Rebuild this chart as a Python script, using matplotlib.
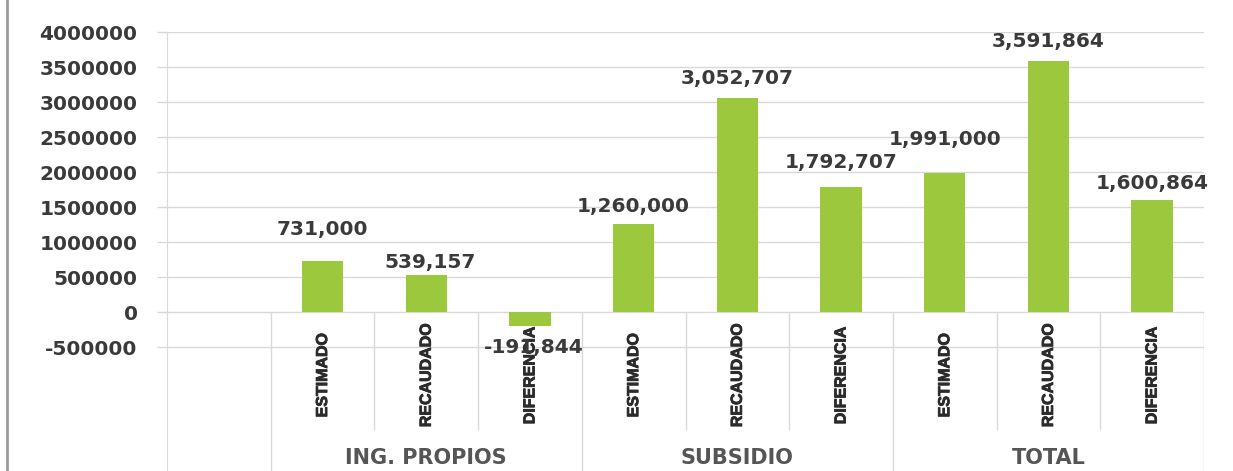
import matplotlib
matplotlib.use('agg')
from matplotlib import pyplot as plt
from matplotlib.lines import Line2D
import matplotlib.patheffects as pe
import numpy as np

# data
groups = ['ING. PROPIOS', 'SUBSIDIO', 'TOTAL']
subcats = ['ESTIMADO', 'RECAUDADO', 'DIFERENCIA']
values = [731000, 539157, -191844,
          1260000, 3052707, 1792707,
          1991000, 3591864, 1600864]
yticks = list(range(-500000, 4000001, 500000))

# label nudges (pixels), label placement only
label_dy = [32, 12, -22, 18, 20, 24, 33, 19, 17]
label_dx = [0, 4, 4, 0, 0, 0, 0, 0, 0]

green = '#9BC83C'
grid_c = '#d9d9d9'
txt_c = '#3a3a3a'

fig = plt.figure(figsize=(12.33, 4.71), dpi=100)
ax = fig.add_axes([167/1233, 0.0, (1204-167)/1233, (471-32)/471])

# slot 0 is the blank category, bars sit in slots 1..9
xpos = np.arange(1, len(values) + 1)
ax.bar(xpos, values, width=0.4, color=green, zorder=3)

ax.set_xlim(-0.5, len(values) + 0.5)
ax.set_ylim(-2262000, 4000000)
ax.set_yticks(yticks)
ax.set_yticklabels([str(v) for v in yticks], fontsize=14.5, fontweight='bold', color=txt_c)
ax.tick_params(axis='y', length=7.2, width=1, color=grid_c, pad=14)
ax.set_xticks([])
ax.yaxis.grid(True, color=grid_c, lw=1, zorder=0)
for s in ['top', 'right', 'bottom']:
    ax.spines[s].set_visible(False)
ax.spines['left'].set_color(grid_c)

# category table under the zero line
ybot = ax.get_ylim()[0]
for i in range(len(groups) + 1):
    ax.vlines(0.5 + 3*i, ybot, 0, color=grid_c, lw=1, zorder=1)
for g in range(len(groups)):
    for k in (1, 2):
        ax.vlines(0.5 + 3*g + k, -1678000, 0, color=grid_c, lw=1, zorder=1)

heavy = [pe.withStroke(linewidth=0.6, foreground='#2b2b2b')]
for i, v in enumerate(values):
    ax.text(xpos[i], -894000, subcats[i % 3], rotation=90, ha='center', va='center',
            fontsize=11.5, fontweight='bold', color='#2b2b2b',
            family='Liberation Sans', path_effects=heavy, zorder=4)
    ax.annotate(f'{v:,}', xy=(xpos[i], v), xytext=(label_dx[i], label_dy[i]),
                textcoords='offset pixels', ha='center', va='center',
                fontsize=14.5, fontweight='bold', color=txt_c, zorder=5)

for g, name in enumerate(groups):
    ax.text(2 + 3*g, -2077000, name, ha='center', va='center',
            fontsize=15, fontweight='bold', color='#555555')

# outer chart frame on the left
fig.add_artist(Line2D([7/1233, 7/1233], [0, 1], color='#9a9a9a', lw=2))

plt.savefig('out.png', dpi=100)
plt.close()
